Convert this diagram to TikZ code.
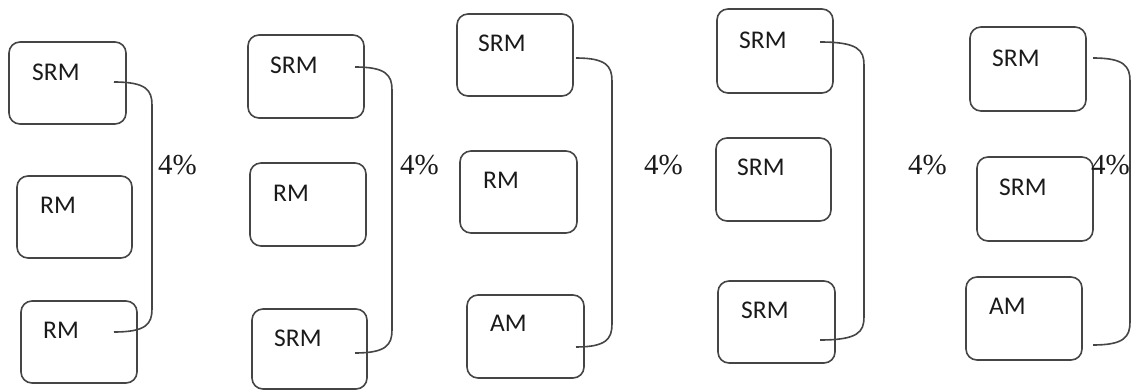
\documentclass[tikz,border=0pt]{standalone}
\usepackage{fontspec}
\setmainfont{Carlito}
\newfontfamily\pctfont{Liberation Serif}
\definecolor{edge}{HTML}{454545}
\definecolor{ink}{HTML}{1A1A1A}
\begin{document}
\begin{tikzpicture}[x=1pt,y=-1pt,
  mbox/.style={draw=edge,line width=1.6pt,rounded corners=11pt},
  lbl/.style={anchor=west,inner sep=0pt,text=ink,font=\fontsize{25.5}{28}\selectfont},
  pct/.style={anchor=west,inner sep=0pt,text=ink,font=\pctfont\fontsize{29}{32}\selectfont},
  brk/.style={draw=edge,line width=1.6pt}]
\useasboundingbox (0,0) rectangle (1135,390);
\foreach \xa/\ya/\xb/\yb/\t/\tx/\ty/\n in {
  9/42/126/124/SRM/32/72/a1, 17/176/132/258/RM/40/205/a2, 21/301/137/383/RM/43/330/a3,
  248/35/364/118/SRM/270/65/b1, 250/163/366/246/RM/273/193/b2, 252/309/367/389/SRM/274/338/b3,
  457/14/573/96/SRM/478/43/c1, 460/151/577/233/RM/483/180/c2, 467/295/584/378/AM/490/323/c3,
  717/9/833/93/SRM/739/40/d1, 716/138/831/221/SRM/737/167/d2, 718/281/835/363/SRM/741/310/d3,
  970/27/1086/111/SRM/992/58/e1, 977/157/1093/241/SRM/999/187/e2, 966/277/1082/360/AM/989/306/e3}{
  \node[mbox,minimum width={\xb-\xa},minimum height={\yb-\ya},inner sep=0pt] (\n) at ({(\xa+\xb)/2},{(\ya+\yb)/2}) {};
  \node[lbl] (t\n) at (\tx,\ty) {\t};
}
\foreach \xs/\ys/\xv/\ye/\px/\n in {114/82/152/332/158/a, 355/67/392/353/400/b, 576/58/612/347/644/c, 820/42/864/340/908/d, 1093/58/1130/345/1091/e}{
  \coordinate (s\n) at (\xs,\ys);
  \coordinate (f\n) at (\xs,\ye);
  \draw[brk] (s\n) .. controls ({\xv-6},\ys) and (\xv,{\ys+8}) .. (\xv,{\ys+23})
     -- (\xv,{\ye-23}) .. controls (\xv,{\ye-8}) and ({\xv-6},\ye) .. (f\n);
  \node[pct] (p\n) at (\px,165) {4\%};
}
\end{tikzpicture}
\end{document}
